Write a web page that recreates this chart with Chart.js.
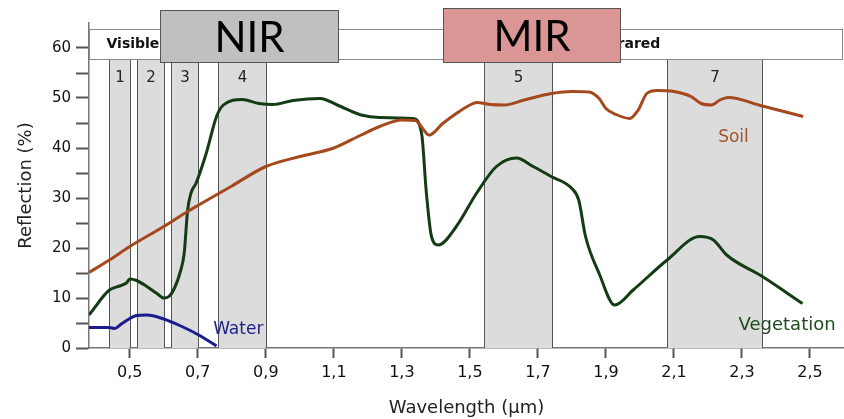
<!DOCTYPE html>
<html>
<head>
<meta charset="utf-8">
<script src="https://cdn.jsdelivr.net/npm/chart.js@4.4.1/dist/chart.umd.min.js"></script>
<style>
  html, body { margin: 0; padding: 0; background: #fff; }
  #wrap { width: 844px; height: 419px; }
</style>
</head>
<body>
<div id="wrap"><canvas id="chart"></canvas></div>
<script>
// --- Data (wavelength in µm, reflection in %) ---
const soilX = [0.38, 0.44, 0.50, 0.60, 0.67, 0.70, 0.80, 0.90, 1.00, 1.10, 1.18, 1.235, 1.30, 1.34, 1.36, 1.38, 1.42, 1.46, 1.50, 1.52, 1.56, 1.60, 1.66, 1.74, 1.80, 1.85, 1.88, 1.90, 1.93, 1.97, 1.995, 2.02, 2.05, 2.10, 2.15, 2.18, 2.21, 2.235, 2.26, 2.36, 2.48];
const soilY = [15.1, 17.6, 20.3, 24.3, 27.3, 28.5, 32.4, 36.3, 38.3, 40.0, 42.6, 44.3, 45.6, 45.5, 44.0, 42.6, 44.9, 46.9, 48.6, 49.1, 48.7, 48.6, 49.6, 50.9, 51.3, 51.2, 49.9, 47.9, 46.7, 45.9, 47.6, 50.9, 51.5, 51.3, 50.3, 48.9, 48.6, 49.6, 50.1, 48.4, 46.3];

const vegX = [0.38, 0.44, 0.47, 0.49, 0.50, 0.52, 0.55, 0.58, 0.60, 0.615, 0.65, 0.66, 0.67, 0.68, 0.695, 0.725, 0.755, 0.775, 0.83, 0.88, 0.92, 0.98, 1.06, 1.11, 1.18, 1.235, 1.333, 1.358, 1.372, 1.387, 1.407, 1.46, 1.52, 1.578, 1.637, 1.686, 1.739, 1.80, 1.82, 1.84, 1.88, 1.926, 1.98, 2.08, 2.176, 2.216, 2.255, 2.36, 2.478];
const vegY = [6.6, 11.6, 12.4, 13.0, 13.8, 13.5, 12.3, 10.9, 10.0, 10.3, 15.6, 19.0, 27.6, 31.0, 33.0, 39.0, 46.3, 48.6, 49.7, 48.9, 48.7, 49.5, 49.9, 48.6, 46.6, 46.1, 45.9, 42.9, 31.0, 22.3, 20.6, 24.3, 31.0, 36.3, 38.0, 36.3, 34.3, 31.9, 29.6, 22.3, 14.9, 8.6, 11.6, 17.6, 22.3, 21.6, 18.6, 14.3, 8.9];

const waterX = [0.38, 0.44, 0.455, 0.475, 0.50, 0.52, 0.55, 0.60, 0.65, 0.70, 0.755];
const waterY = [4.1, 4.1, 3.9, 4.8, 5.9, 6.5, 6.6, 5.8, 4.4, 2.7, 0.4];

// Landsat TM bands
const bandNames = ['1', '2', '3', '4', '5', '7'];
const bandFrom = [0.44, 0.52, 0.62, 0.76, 1.54, 2.08];
const bandTo = [0.50, 0.60, 0.70, 0.90, 1.74, 2.36];

// Spectral regions shown as overlay boxes
const regionNames = ['NIR', 'MIR'];
const regionFrom = [0.588, 1.42];
const regionTo = [1.112, 1.94];

const xTicks = [0.5, 0.7, 0.9, 1.1, 1.3, 1.5, 1.7, 1.9, 2.1, 2.3, 2.5];
const yTicks = [0, 5, 10, 15, 20, 25, 30, 35, 40, 45, 50, 55, 60];

const toPoints = (xs, ys) => xs.map((x, i) => ({ x: x, y: ys[i] }));
const comma = v => v.toFixed(1).replace('.', ',');

const FONT = "'DejaVu Sans', sans-serif";

const bandsPlugin = {
    id: 'bands',
    beforeDatasetsDraw(chart) {
        const { ctx, scales: { x, y } } = chart;
        const top = y.getPixelForValue(57.8);
        const bottom = y.getPixelForValue(0);
        ctx.save();
        bandNames.forEach((name, i) => {
            const l = Math.round(x.getPixelForValue(bandFrom[i])) + 0.5;
            const r = Math.round(x.getPixelForValue(bandTo[i])) + 0.5;
            ctx.fillStyle = '#dcdcdc';
            ctx.fillRect(l, top, r - l, bottom - top);
            ctx.strokeStyle = '#555';
            ctx.lineWidth = 1;
            ctx.beginPath();
            ctx.moveTo(l, top); ctx.lineTo(l, bottom);
            ctx.moveTo(r, top); ctx.lineTo(r, bottom);
            ctx.stroke();
            ctx.fillStyle = '#222';
            ctx.font = '15px ' + FONT;
            ctx.textAlign = 'center';
            ctx.textBaseline = 'middle';
            ctx.fillText(name, (l + r) / 2, y.getPixelForValue(54));
        });

        // header strip
        const hTop = Math.round(y.getPixelForValue(63.8)) + 0.5;
        const hBot = Math.round(y.getPixelForValue(57.8)) + 0.5;
        const hl = x.left + 0.5, hr = x.right - 1.5;
        ctx.fillStyle = '#fff';
        ctx.fillRect(hl, hTop, hr - hl, hBot - hTop);
        ctx.strokeStyle = '#888';
        ctx.strokeRect(hl, hTop, hr - hl, hBot - hTop);
        ctx.fillStyle = '#111';
        ctx.font = 'bold 14px ' + FONT;
        ctx.textBaseline = 'middle';
        ctx.textAlign = 'left';
        ctx.fillText('Visible', hl + 17, (hTop + hBot) / 2);
        ctx.textAlign = 'right';
        ctx.fillText('Infrared', x.getPixelForValue(2.06), (hTop + hBot) / 2);
        ctx.restore();
    },
    afterDraw(chart) {
        const { ctx, scales: { x, y } } = chart;
        ctx.save();

        // series labels
        ctx.textBaseline = 'middle';
        ctx.textAlign = 'left';
        ctx.font = '17px ' + FONT;
        ctx.fillStyle = '#1f2388';
        ctx.fillText('Water', x.getPixelForValue(0.745), y.getPixelForValue(3.6));
        ctx.fillStyle = '#a0522d';
        ctx.fillText('Soil', x.getPixelForValue(2.23), y.getPixelForValue(42));
        ctx.fillStyle = '#1e4a1e';
        ctx.font = '18px ' + FONT;
        ctx.fillText('Vegetation', x.getPixelForValue(2.29), y.getPixelForValue(4.6));

        // NIR / MIR boxes
        const fills = ['#c0c0c0', '#d99694'];
        const tops = [67.6, 68];
        regionNames.forEach((name, i) => {
            const l = Math.round(x.getPixelForValue(regionFrom[i])) + 0.5;
            const r = Math.round(x.getPixelForValue(regionTo[i])) + 0.5;
            const t = Math.round(y.getPixelForValue(tops[i])) + 0.5;
            const b = Math.round(y.getPixelForValue(57.2)) + 0.5;
            ctx.fillStyle = fills[i];
            ctx.fillRect(l, t, r - l, b - t);
            ctx.strokeStyle = '#555';
            ctx.lineWidth = 1;
            ctx.strokeRect(l, t, r - l, b - t);
            ctx.fillStyle = '#000';
            ctx.font = '42px Lato, sans-serif';
            ctx.textAlign = 'center';
            ctx.textBaseline = 'middle';
            ctx.fillText(name, (l + r) / 2, (t + b) / 2 + 2);
        });
        ctx.restore();
    }
};

const ctx = document.getElementById('chart').getContext('2d');
const chart = new Chart(ctx, {
    type: 'line',
    data: {
        datasets: [
            { label: 'Soil', data: toPoints(soilX, soilY), borderColor: '#a5481c', borderWidth: 3 },
            { label: 'Vegetation', data: toPoints(vegX, vegY), borderColor: '#143c14', borderWidth: 3 },
            { label: 'Water', data: toPoints(waterX, waterY), borderColor: '#1c1c8c', borderWidth: 3 }
        ]
    },
    options: {
        responsive: true,
        maintainAspectRatio: false,
        animation: false,
        layout: { padding: { top: 23, left: 0, right: 0, bottom: 0 } },
        elements: {
            point: { radius: 0 },
            line: { cubicInterpolationMode: 'monotone', fill: false }
        },
        plugins: { legend: { display: false }, tooltip: { enabled: false } },
        scales: {
            x: {
                type: 'linear',
                min: 0.38,
                max: 2.6,
                afterBuildTicks: axis => { axis.ticks = xTicks.map(v => ({ value: v })); },
                afterFit: scale => { scale.height = 71; },
                ticks: {
                    callback: v => comma(v),
                    color: '#111',
                    font: { family: FONT, size: 16 },
                    padding: 5,
                    maxRotation: 0
                },
                grid: { drawOnChartArea: false, tickLength: 10, tickWidth: 2, tickColor: '#555' },
                border: { color: '#777', width: 1.5 },
                title: {
                    display: true,
                    text: 'Wavelength (µm)',
                    color: '#222',
                    font: { family: FONT, size: 18 },
                    padding: { top: 0, bottom: 0 }
                }
            },
            y: {
                min: 0,
                max: 65,
                afterBuildTicks: axis => { axis.ticks = yTicks.map(v => ({ value: v })); },
                afterFit: scale => { scale.width = 89; },
                ticks: {
                    callback: v => (v % 10 === 0 ? String(v) : ''),
                    color: '#111',
                    font: { family: FONT, size: 15 },
                    padding: 5
                },
                grid: { drawOnChartArea: false, tickLength: 13, tickWidth: 2, tickColor: '#555' },
                border: { color: '#777', width: 1.5 },
                title: {
                    display: true,
                    text: 'Reflection (%)',
                    color: '#222',
                    font: { family: FONT, size: 18 },
                    padding: { top: 16, bottom: 0 }
                }
            }
        }
    },
    plugins: [bandsPlugin]
});
</script>
</body>
</html>
